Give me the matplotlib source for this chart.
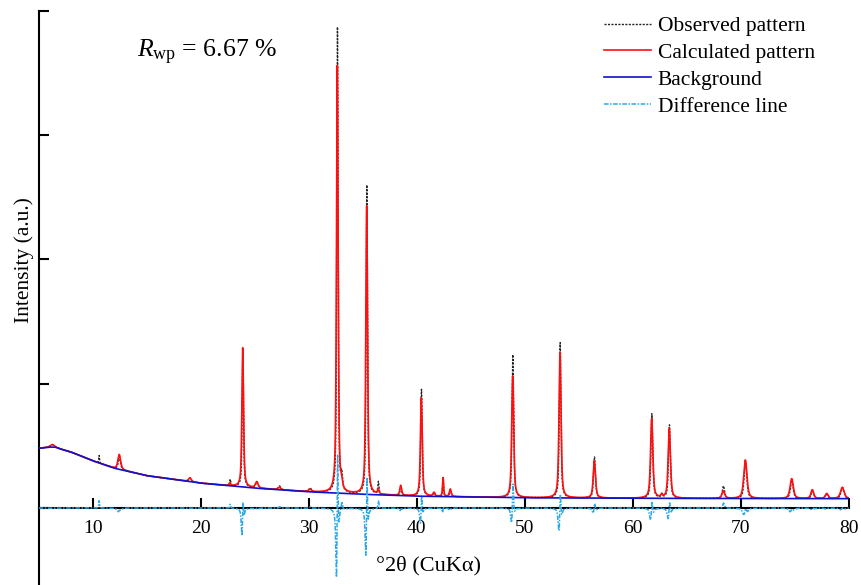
import numpy as np
import matplotlib
matplotlib.use('Agg')
import matplotlib.pyplot as plt

plt.rcParams['font.family'] = ['Liberation Serif', 'DejaVu Serif']
plt.rcParams['mathtext.fontset'] = 'custom'
plt.rcParams['mathtext.rm'] = 'Liberation Serif'
plt.rcParams['mathtext.it'] = 'Liberation Serif:italic'

# background knots (2theta, intensity in a.u.)
bg_pos = [5, 6, 6.5, 7, 8, 10, 12, 15, 20, 25, 30, 35, 40, 50, 60, 70, 80]
bg_int = [0.48, 0.49, 0.49, 0.475, 0.45, 0.38, 0.32, 0.26, 0.20, 0.16, 0.13, 0.11, 0.095, 0.082, 0.078, 0.076, 0.075]

# reflections: position, calculated height, observed height, FWHM
peak_pos = [6.26, 10.58, 12.46, 19.0, 22.71, 23.89, 25.19, 27.28, 30.12, 32.65, 33.05,
            35.37, 36.44, 38.52, 40.43, 41.6, 42.44, 43.11, 48.89, 53.27, 56.45,
            61.76, 62.68, 63.39, 68.39, 70.43, 74.72, 76.63, 77.96, 79.41]
calc_h = [0.02, 0.0, 0.12, 0.03, 0.02, 1.12, 0.05, 0.02, 0.02, 3.44, 0.05,
          2.32, 0.04, 0.08, 0.79, 0.03, 0.15, 0.06, 0.98, 1.17, 0.30,
          0.64, 0.02, 0.56, 0.06, 0.31, 0.16, 0.07, 0.04, 0.09]
obs_h = [0.02, 0.06, 0.10, 0.03, 0.05, 1.12, 0.05, 0.03, 0.03, 3.75, 0.12,
         2.49, 0.10, 0.07, 0.86, 0.03, 0.15, 0.05, 1.15, 1.25, 0.33,
         0.68, 0.03, 0.59, 0.10, 0.30, 0.15, 0.07, 0.04, 0.09]
fwhm = [0.4, 0.1, 0.3, 0.3, 0.15, 0.18, 0.3, 0.3, 0.3, 0.18, 0.2,
        0.19, 0.15, 0.2, 0.2, 0.2, 0.12, 0.2, 0.22, 0.22, 0.25,
        0.25, 0.2, 0.25, 0.3, 0.35, 0.35, 0.3, 0.3, 0.4]

obs_shift = 0.012
obs_narrow = 0.82


def pseudo_voigt(x, p, h, w, eta=0.6):
    d = (x - p) / (w / 2)
    lor = 1 / (1 + d ** 2)
    gau = np.exp(-np.log(2) * d ** 2)
    return h * (eta * lor + (1 - eta) * gau)


two_theta = np.arange(5, 80.0001, 0.005)
background = np.interp(two_theta, bg_pos, bg_int)
calculated = background.copy()
observed = background.copy()
for p, hc, ho, w in zip(peak_pos, calc_h, obs_h, fwhm):
    calculated += pseudo_voigt(two_theta, p, hc, w)
    observed += pseudo_voigt(two_theta, p + obs_shift, ho, w * obs_narrow)
difference = observed - calculated

fig = plt.figure(figsize=(8.61, 5.85), dpi=100)
ax = fig.add_axes([38.7 / 861, 0, (848.7 - 38.7) / 861, 1 - 11 / 585])

l1, = ax.plot(two_theta, observed, color='#222222', lw=1, ls=(0, (1.5, 1)), zorder=2, label='Observed pattern')
l2, = ax.plot(two_theta, calculated, color='#ff1010', lw=1.2, zorder=3, label='Calculated pattern')
l3, = ax.plot(two_theta, background, color='#1010d0', lw=1.2, zorder=4, label='Background')
l4, = ax.plot(two_theta, difference, color='#2aa8e8', lw=1.1, ls=(0, (3, 1, 1, 1)), zorder=5, label='Difference line')

ax.set_xlim(5, 80)
ax.set_ylim(-0.62, 4.0)
ax.spines['top'].set_visible(False)
ax.spines['right'].set_visible(False)
ax.spines['bottom'].set_position(('data', 0))
ax.spines['bottom'].set_linewidth(1.5)
ax.spines['left'].set_linewidth(1.5)

ax.set_xticks([10, 20, 30, 40, 50, 60, 70, 80])
ax.set_yticks([0, 1, 2, 3, 4])
ax.tick_params(axis='x', direction='in', length=7, width=1.5, pad=9, labelsize=14)
ax.tick_params(axis='y', direction='in', length=7, width=1.5, labelleft=False)

fig.text(24 / 861, 1 - 260 / 585, 'Intensity (a.u.)', rotation=90, ha='center', va='center', fontsize=15.5)
fig.text(428 / 861, 1 - 566 / 585, '°2θ (CuKα)', ha='center', va='center', fontsize=16)
fig.text(137 / 861, 1 - 57 / 585, r'$R_{\mathrm{wp}}$ = 6.67 %', fontsize=18.5, va='baseline')

ax.legend(handles=[l1, l2, l3, l4], loc='upper left', bbox_to_anchor=(604 / 861, 1 - 16 / 585),
          bbox_transform=fig.transFigure, frameon=False, fontsize=15.5, handlelength=2.2,
          handletextpad=0.3, labelspacing=0.32, borderpad=0, borderaxespad=0)

fig.savefig('out.png', dpi=100)
